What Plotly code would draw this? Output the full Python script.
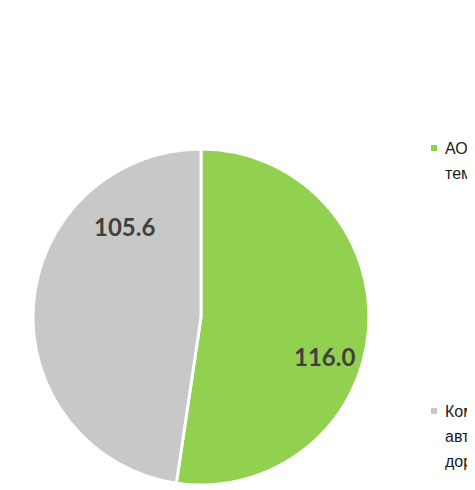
import plotly.graph_objects as go

# Data
labels = ["АО «Автодор» темпы", "Компании автомобильных дорог"]
values = [116.0, 105.6]
colors = ["#92D050", "#C8C8C8"]
legend_lines = [["АО «ГК «Автодор»", "темпы"], ["Компании", "автомобильных", "дорог"]]

W, H = 475, 490
OFF = 8  # page body margin

def px(x):
    return (x - OFF) / W

def py(y):
    return 1 - (y - OFF) / H

fig = go.Figure()
fig.add_trace(go.Pie(
    labels=labels,
    values=values,
    sort=False,
    direction="clockwise",
    rotation=0,
    marker=dict(colors=colors, line=dict(color="white", width=3)),
    textinfo="none",
    hoverinfo="label+value",
    showlegend=False,
    domain=dict(x=[px(33), px(369)], y=[py(485), py(149)]),
))

# value labels
label_pos = [(324, 356), (124, 226)]
annotations = []
for v, (x, y) in zip(values, label_pos):
    annotations.append(dict(
        x=px(x), y=py(y), xref="paper", yref="paper",
        text=f"<b>{v:.1f}</b>", showarrow=False,
        xanchor="center", yanchor="middle",
        font=dict(family="Lato, Liberation Sans, Arial", size=24, color="#404040"),
    ))

# legend (manual, entries are far apart)
legend_tops = [148, 411]
line_gap = 25
shapes = []
for lines, top, col in zip(legend_lines, legend_tops, colors):
    shapes.append(dict(type="rect", xref="paper", yref="paper",
                       x0=px(431), x1=px(437), y0=py(top + 3), y1=py(top - 3),
                       fillcolor=col, line=dict(width=0)))
    for i, t in enumerate(lines):
        annotations.append(dict(
            x=px(443), y=py(top + i * line_gap), xref="paper", yref="paper",
            text=t, showarrow=False, xanchor="left", yanchor="middle",
            font=dict(family="Liberation Sans, Arial", size=16, color="#1a1a1a"),
        ))

fig.update_layout(
    width=W, height=H,
    margin=dict(l=0, r=0, t=0, b=0),
    paper_bgcolor="white", plot_bgcolor="white",
    annotations=annotations,
    shapes=shapes,
)

fig.write_html("out.html")
